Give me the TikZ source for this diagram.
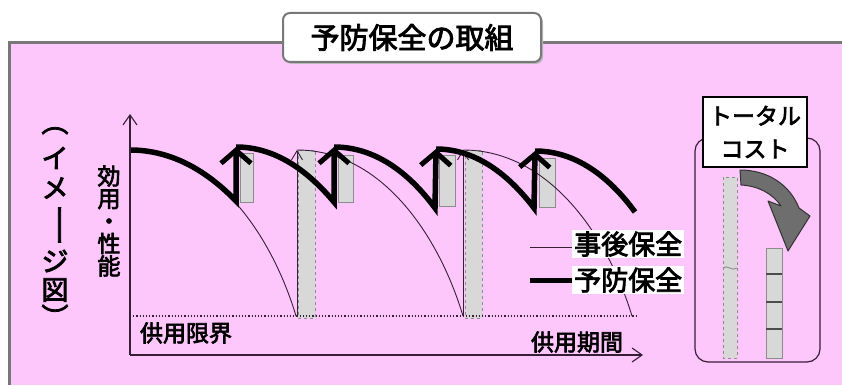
\documentclass[tikz,border=0pt]{standalone}
\usepackage{fontspec}
\setmainfont{Noto Sans CJK JP}[FakeBold=3]
\usetikzlibrary{arrows.meta,calc}
\definecolor{bgpink}{RGB}{253,199,251}
\definecolor{framegray}{RGB}{120,120,120}
\definecolor{curvecol}{RGB}{55,30,55}
\definecolor{barfill}{RGB}{216,216,216}
\definecolor{barline}{RGB}{140,140,140}
\definecolor{arrowgray}{RGB}{110,110,110}
\tikzset{
  thinc/.style={draw=curvecol, line width=0.9pt},
  thickc/.style={draw=black, line width=5.5pt, line join=miter},
  bigtip/.style={-{Straight Barb[length=13pt,width=30pt,line width=5pt]}},
  smalltip/.style={-{Straight Barb[length=9pt,width=11pt,line width=0.9pt]}},
  axis/.style={draw=curvecol, line width=1.1pt},
  smallbar/.style={fill=barfill, draw=barline, line width=0.9pt},
  tallbar/.style={fill=barfill, draw=barline, line width=0.9pt, dashed},
  lbl/.style={inner sep=0pt, text=black},
  legtxt/.style={fill=white, inner sep=2pt, text=black, font=\fontsize{27}{30}\selectfont},
}
\newcommand\thinarc[4]{\draw[thinc] (#1,#2) .. controls ({#1+0.5*(#3-#1)},#2) and ({#1+0.85*(#3-#1)},{#2+0.5*(#4-#2)}) .. (#3,#4);}
\begin{document}
\begin{tikzpicture}[x=1pt,y=-1pt]
\useasboundingbox (0,0) rectangle (842,385);
\fill[white] (0,0) rectangle (842,385);
% frame
\fill[bgpink] (9,43) rectangle (842,385);
\draw[framegray, line width=3pt] (9,385) -- (9,43) -- (842,43);
% title
\fill[gray!55, rounded corners=7pt] (285,15) rectangle (543,64);
\node[fill=white, draw=framegray, line width=2pt, rounded corners=7pt, minimum width=258pt, minimum height=49pt, inner sep=0pt] (title) at (412,37.5) {\fontsize{29}{32}\selectfont 予防保全の取組};
% left vertical text
\begin{scope}[every node/.style={lbl, font=\fontsize{27}{27}\selectfont}]
\node[rotate=-90] (p1) at (55,122) {（};
\node (c1) at (55,158) {イ};
\node (c2) at (55,188) {メ};
\node[rotate=-90] (c3) at (55,225) {\scalebox{1.6}[1]{ー}};
\node (c4) at (55,261) {ジ};
\node (c5) at (55,290) {図};
\node[rotate=-90] (p2) at (55,317) {）};
\end{scope}
\node[lbl, align=center, font=\fontsize{23}{22.5}\selectfont] (perf) at (109,221) {効\\用\\・\\性\\能};
% tall bars (corrective maintenance)
\draw[tallbar] (298,150) rectangle (315,318);
\draw[tallbar] (465,150) rectangle (482,318);
% small bars (preventive maintenance)
\draw[smallbar] (240,153) rectangle (253,202);
\draw[smallbar] (338,155) rectangle (353,202);
\draw[smallbar] (439,155) rectangle (455,206);
\draw[smallbar] (539,158) rectangle (555,207);
% thin arcs
\thinarc{130}{150}{296}{316}
\thinarc{297}{150}{463}{316}
\thinarc{463}{150}{632}{316}
\coordinate (r1b) at (297,316); \coordinate (r1t) at (297,150);
\coordinate (r2b) at (463,316); \coordinate (r2t) at (463,150);
\draw[thinc, smalltip] (r1b) -- (r1t);
\draw[thinc, smalltip] (r2b) -- (r2t);
% thick sawtooth
\draw[thickc, bigtip] (130,150) .. controls (171.5,150) and (206.7,170.7) .. (236,201) -- (236,147);
\draw[thickc, bigtip] (236,147) .. controls ({236+0.396*96},147) and ({236+0.732*96},{147+0.4*55}) .. (334,202) -- (334,147);
\draw[thickc, bigtip] (334,147) .. controls ({334+0.396*101},147) and ({334+0.732*101},{147+0.4*61}) .. (435,208) -- (436,149);
\draw[thickc, bigtip] (436,149) .. controls ({436+0.396*97},149) and ({436+0.732*97},{149+0.4*59}) .. (534,208) -- (535,151);
\draw[thickc] (535,151) .. controls ({535+0.396*100},151) and ({535+0.732*100},{151+0.4*61}) .. (635,212);
% service limit
\draw[curvecol, line width=1.2pt, dotted] (130,316) -- (638,316);
% axes
\coordinate (o) at (130,355);
\coordinate (ytop) at (130,114);
\coordinate (xend) at (643,355);
\draw[axis, -{Straight Barb[length=10pt,width=14pt,line width=1.1pt]}] (o) -- (ytop);
\draw[axis, -{Straight Barb[length=10pt,width=14pt,line width=1.1pt]}] (o) -- (xend);
\node[lbl, font=\fontsize{23}{23}\selectfont] (limit) at (186,333) {供用限界};
\node[lbl, font=\fontsize{23}{23}\selectfont] (period) at (577,342) {供用期間};
% legend
\coordinate (l1a) at (530,247); \coordinate (l1b) at (574,247);
\coordinate (l2a) at (530,280); \coordinate (l2b) at (574,280);
\draw[thinc] (l1a) -- (l1b);
\draw[thickc, line width=5pt] (l2a) -- (l2b);
\node[legtxt, anchor=west] (leg1) at (572,244) {事後保全};
\node[legtxt, anchor=west] (leg2) at (572,280) {予防保全};
% total cost panel
\draw[curvecol, line width=1.2pt, rounded corners=13pt] (695,138) rectangle (820,362);
\node[fill=white, draw=black, line width=1.3pt, minimum width=104pt, minimum height=70pt, inner sep=0pt, align=center, font=\fontsize{23}{33}\selectfont] (tc) at (755,132) {トータル\\コスト};
\draw[tallbar] (723,177) rectangle (737,358);
\draw[barline, line width=0.9pt] (723,268) .. controls (727,264) and (732,272) .. (737,268);
\draw[smallbar] (766,248) rectangle (782,358);
\draw[gray!60!black, line width=2pt] (766,274) -- (782,274) (766,302) -- (782,302) (766,329) -- (782,329);
% big curved arrow
\draw[fill=arrowgray, draw=gray!40!black, line width=1pt, line join=round]
  (740,170) .. controls (768,170) and (790,185) .. (799,208)
  -- (810,216) -- (788,251) -- (768,201) -- (781,206)
  .. controls (772,193) and (758,186) .. (741,185) -- cycle;
\end{tikzpicture}
\end{document}
